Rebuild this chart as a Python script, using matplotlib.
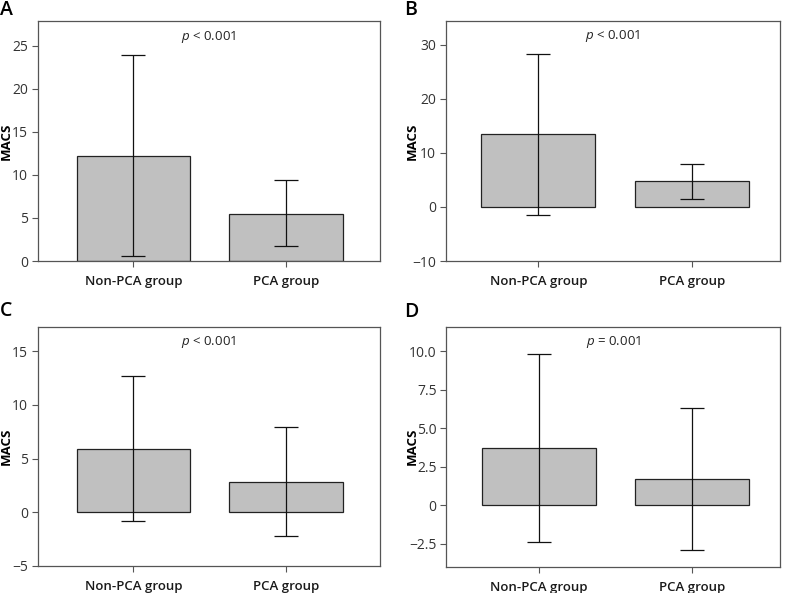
import matplotlib
matplotlib.use('Agg')
import matplotlib.pyplot as plt
import numpy as np

plt.rcParams['font.family'] = ['Open Sans', 'DejaVu Sans']
plt.rcParams['mathtext.fontset'] = 'custom'
plt.rcParams['mathtext.rm'] = 'Open Sans'
plt.rcParams['mathtext.it'] = 'Open Sans:italic'

# ---- dados ----
grupos = ['Non-PCA group', 'PCA group']
paineis = ['A', 'B', 'C', 'D']
medias = {'A': [12.2, 5.5], 'B': [13.4, 4.7], 'C': [5.85, 2.8], 'D': [3.7, 1.7]}
erro_sup = {'A': [24.0, 9.4], 'B': [28.2, 8.0], 'C': [12.7, 7.9], 'D': [9.8, 6.3]}
erro_inf = {'A': [0.6, 1.7], 'B': [-1.5, 1.4], 'C': [-0.85, -2.2], 'D': [-2.4, -2.9]}
textos_p = {'A': 'p < 0.001', 'B': 'p < 0.001', 'C': 'p < 0.001', 'D': 'p = 0.001'}
yticks = {'A': [0, 5, 10, 15, 20, 25], 'B': [-10, 0, 10, 20, 30],
          'C': [-5, 0, 5, 10, 15], 'D': [-2.5, 0, 2.5, 5.0, 7.5, 10.0]}
yticklabels = {'A': ['0', '5', '10', '15', '20', '25'], 'B': ['\u221210', '0', '10', '20', '30'],
               'C': ['\u22125', '0', '5', '10', '15'],
               'D': ['\u22122.5', '0', '2.5', '5.0', '7.5', '10.0']}
ylims = {'A': (0, 27.9), 'B': (-10, 34.4), 'C': (-5, 17.3), 'D': (-4, 11.6)}

# ---- layout (pixels) ----
W, H = 786, 593
caixas = {'A': (37.7, 261, 342.3, 240), 'B': (445.7, 261, 334.6, 240.3),
          'C': (37.7, 565.7, 342.3, 239), 'D': (446.3, 566.7, 334, 240)}
xlims = {'A': (-0.628, 1.616), 'B': (-0.604, 1.578), 'C': (-0.628, 1.616), 'D': (-0.604, 1.578)}
letras_pos = {'A': (0, 10), 'B': (404, 10), 'C': (0, 311), 'D': (404, 312)}
macs_x = {'A': 6.5, 'B': 412, 'C': 6.5, 'D': 412}

fig = plt.figure(figsize=(W / 100, H / 100), dpi=100)
cor_borda = '#555555'

for p in paineis:
    x0, yb, w, h = caixas[p]
    ax = fig.add_axes([x0 / W, (H - yb) / H, w / W, h / H])
    x = np.arange(len(grupos))
    m = np.array(medias[p])
    sup = np.array(erro_sup[p])
    inf = np.array(erro_inf[p])
    ax.bar(x, m, width=0.745, color='#c0c0c0', edgecolor='#222222', linewidth=0.9, zorder=2)
    ax.errorbar(x, m, yerr=[m - inf, sup - m], fmt='none', ecolor='#111111',
                elinewidth=0.9, capsize=8.4, capthick=0.9, zorder=3)
    ax.set_xlim(*xlims[p])
    ax.set_ylim(*ylims[p])
    ax.set_xticks(x)
    ax.set_xticklabels(grupos, fontsize=9.5, fontweight='semibold', color='#1a1a1a')
    ax.set_yticks(yticks[p])
    ax.set_yticklabels(yticklabels[p], fontsize=10, color='#333333')
    ax.tick_params(axis='both', length=4, width=0.8, color=cor_borda, pad=3)
    ax.tick_params(axis='x', pad=6)
    for s in ax.spines.values():
        s.set_color(cor_borda)
        s.set_linewidth(0.9)
    # texto do p-valor
    letra, resto = textos_p[p].split(' ', 1)
    ax.text(0.5, 0.935, r'$\it{p}$' + ' ' + resto, transform=ax.transAxes,
            ha='center', va='center', fontsize=9.5, color='#222222')
    # rotulo do eixo
    fig.text(macs_x[p] / W, (H - (yb - h / 2)) / H, 'MACS', rotation=90,
             ha='center', va='center', fontsize=9.5, fontweight='bold')
    # letra do painel
    lx, ly = letras_pos[p]
    fig.text(lx / W, (H - ly) / H, p, ha='left', va='center', fontsize=14,
             fontweight='semibold')

fig.savefig('out.png', dpi=100)
